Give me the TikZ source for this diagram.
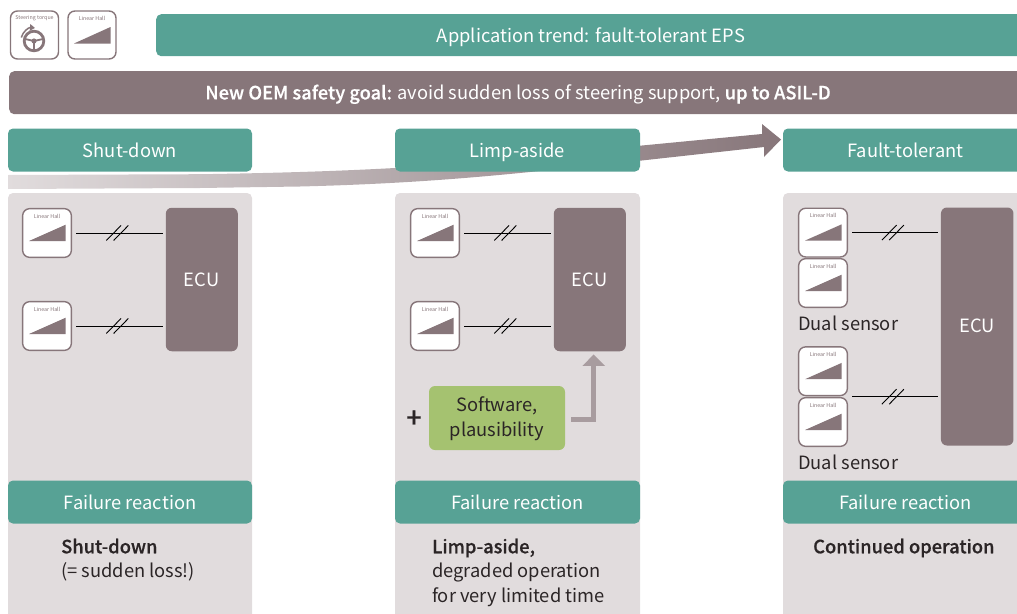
\documentclass[tikz,border=0pt]{standalone}
\usepackage{fontspec}
\setmainfont{Noto Sans CJK SC}[BoldFont={Noto Sans CJK SC Medium},BoldFeatures={FakeBold=0.5}]
\usetikzlibrary{arrows.meta,calc}
\definecolor{teal}{HTML}{57A295}
\definecolor{mauve}{HTML}{87767A}
\definecolor{panel}{HTML}{E1DCDD}
\definecolor{lime}{HTML}{A5C270}
\definecolor{ink}{HTML}{2B2526}
\definecolor{lightarrow}{HTML}{A89C9F}
\tikzset{
 px/.style={x=1pt,y=-1pt},
 panelbox/.style={fill=panel,rounded corners=5pt},
 tealbox/.style={fill=teal,rounded corners=5pt,text=white,font=\fontsize{18.3}{22}\selectfont,inner sep=0pt,align=center,text height=15.5pt,text depth=0pt},
 ecubox/.style={fill=mauve,rounded corners=6pt,inner sep=0pt},
 ecutext/.style={text=white,font=\fontsize{18.3}{22}\selectfont,inner sep=0pt},
 sensorbox/.style={draw=mauve,line width=1.4pt,fill=white,rounded corners=7pt,minimum width=48.7pt,minimum height=48.7pt,inner sep=0pt},
 tinylabel/.style={text=mauve,font=\fontsize{5.3}{6}\selectfont,inner sep=0pt},
 wire/.style={draw=black,line width=1pt,shorten <=4pt,shorten >=3pt},
 slash/.style={draw=black,line width=.9pt},
 bodytext/.style={text=ink,font=\fontsize{18.3}{24.5}\selectfont,inner sep=0pt,align=left,anchor=north west},
}
\newcommand{\hallsensor}[3]{%
 \node[sensorbox] (#1) at (#2,#3) {};
 \node[tinylabel] at ($(#1.center)+(0,-16.7)$) {Linear Hall};
 \fill[mauve] ($(#1.center)+(-18,8)$) -- ($(#1.center)+(18.7,8)$) -- ($(#1.center)+(18.7,-8.3)$) -- cycle;
}
\newcommand{\slashes}[1]{%
 \draw[slash] ($(#1)+(-12.5,7.5)$) -- ($(#1)+(2.2,-7.5)$);
 \draw[slash] ($(#1)+(-5.2,7.5)$) -- ($(#1)+(9.5,-7.5)$);
}
\begin{document}
\begin{tikzpicture}[px]
\useasboundingbox (0,0) rectangle (1017,613);
\clip (0,0) rectangle (1017,613);
% progress arrow
\shade[left color=panel,right color=mauve,shading=axis]
 (8,175) -- (200,174.2) .. controls (280,173) and (340,171) .. (395,168) -- (640,145.7) -- (762,134) -- (762,124) -- (781,139.5) -- (764,157) -- (764,147) -- (640,160.7) -- (530,172) .. controls (470,178) and (400,184) .. (300,186.5) -- (200,188) -- (8,189) -- cycle;
% top bars
\node[tealbox,minimum width=900pt,minimum height=42pt,anchor=north west] (trend) at (156,14) {};
\node[text=white,font=\fontsize{18.3}{22}\selectfont,inner sep=0pt] at (591,36.8) {Application trend: fault-tolerant EPS};
\node[fill=mauve,rounded corners=5pt,minimum width=1050pt,minimum height=43pt,anchor=north west,inner sep=0pt] (goal) at (9,71) {};
\node[text=white,font=\fontsize{18.3}{22}\selectfont,inner sep=0pt] at (518,94.3) {\textbf{New OEM safety goal:} avoid sudden loss of steering support, \textbf{up to ASIL-D}};
% legend icons
\node[sensorbox,minimum width=48pt,minimum height=48pt] (iconw) at (34.5,35) {};
\node[tinylabel] at (34.5,18.5) {Steering torque};
\draw[mauve,line width=2.8pt] (34,41) circle (9.8pt);
\fill[mauve] (34,41) circle (2.6pt);
\draw[mauve,line width=1.8pt] (25,39) -- (34,41) -- (43,39) (34,41) -- (34,50);
\draw[mauve,line width=1.5pt,-{Triangle[width=6.5pt,length=5pt]}] (21.3,37.5) arc[start angle=165,end angle=85,radius=13pt];
\node[sensorbox,minimum width=48pt,minimum height=48pt] (iconh) at (92,35) {};
\node[tinylabel] at (92,18.5) {Linear Hall};
\fill[mauve] (74,43.5) -- (110.5,43.5) -- (110.5,27) -- cycle;
% column 1
\fill[panelbox] (8,193) rectangle (252,640);
\node[tealbox,minimum width=244pt,minimum height=43pt] (h1) at (130,150) {Shut-down};
\node[ecubox,minimum width=72pt,minimum height=143.5pt] (ecu1) at (201.8,279.5) {};
\node[ecutext] at (201.5,280) {ECU};
\hallsensor{a1}{47}{233}
\hallsensor{a2}{47}{326}
\draw[wire] (a1) -- (a1 -| ecu1.west) coordinate[pos=.5] (a1m);
\draw[wire] (a2) -- (a2 -| ecu1.west) coordinate[pos=.5] (a2m);
\slashes{a1m} \slashes{a2m}
\node[tealbox,minimum width=244pt,minimum height=43pt] (f1) at (130,502) {Failure reaction};
\node[bodytext] (t1) at (61,538.5) {\textbf{Shut-down}\\(= sudden loss!)};
% column 2
\fill[panelbox] (395,193) rectangle (640,640);
\node[tealbox,minimum width=245pt,minimum height=43pt] (h2) at (517.5,150) {Limp-aside};
\node[ecubox,minimum width=72pt,minimum height=143.5pt] (ecu2) at (589.8,279.5) {};
\node[ecutext] at (589.5,280) {ECU};
\hallsensor{b1}{435}{233}
\hallsensor{b2}{435}{326}
\draw[wire] (b1) -- (b1 -| ecu2.west) coordinate[pos=.5] (b1m);
\draw[wire] (b2) -- (b2 -| ecu2.west) coordinate[pos=.5] (b2m);
\slashes{b1m} \slashes{b2m}
\node[fill=lime,rounded corners=6pt,minimum width=136pt,minimum height=64pt,inner sep=0pt,text=ink,align=center,font=\fontsize{18.3}{24.5}\selectfont,text depth=3pt] (soft) at (497,418) {Software,\\plausibility};
\node[text=ink,inner sep=0pt,font=\fontsize{27}{27}\selectfont\bfseries] (plus) at (414,419) {+};
\draw[lightarrow,line width=5.5pt,-{Triangle[width=22pt,length=11.5pt]}] ([xshift=6pt,yshift=-1.5pt]soft.east) -| ([xshift=3.9pt,yshift=-3pt]ecu2.south);
\node[tealbox,minimum width=245pt,minimum height=43pt] (f2) at (517.5,502) {Failure reaction};
\node[bodytext] (t2) at (432,538.5) {\textbf{Limp-aside,}\\degraded operation\\for very limited time};
% column 3
\fill[panelbox] (783,193) rectangle (1060,640);
\node[tealbox,minimum width=245pt,minimum height=43pt] (h3) at (905.5,150) {Fault-tolerant};
\node[ecubox,minimum width=72.5pt,minimum height=238pt] (ecu3) at (977.2,326.5) {};
\node[ecutext] at (977,326) {ECU};
\hallsensor{c1}{823}{232.6}
\hallsensor{c2}{823}{283}
\hallsensor{c3}{823}{371.2}
\hallsensor{c4}{823}{422}
\node[text=ink,font=\fontsize{18.3}{22}\selectfont,inner sep=0pt,anchor=west] (d1) at (798,323.5) {Dual sensor};
\node[text=ink,font=\fontsize{18.3}{22}\selectfont,inner sep=0pt,anchor=west] (d2) at (798,462.5) {Dual sensor};
\draw[wire] (c1) -- (c1 -| ecu3.west) coordinate[pos=.5] (c1m);
\coordinate (c34) at (848,396.7);
\draw[wire] (c34) -- (c34 -| ecu3.west);
\coordinate (c3m) at (c1m |- c34);
\slashes{c1m}
\node[tealbox,minimum width=245pt,minimum height=43pt] (f3) at (905.5,502) {Failure reaction};
\node[bodytext] (t3) at (813,538.5) {\textbf{Continued operation}};
\slashes{c3m}
\end{tikzpicture}
\end{document}
